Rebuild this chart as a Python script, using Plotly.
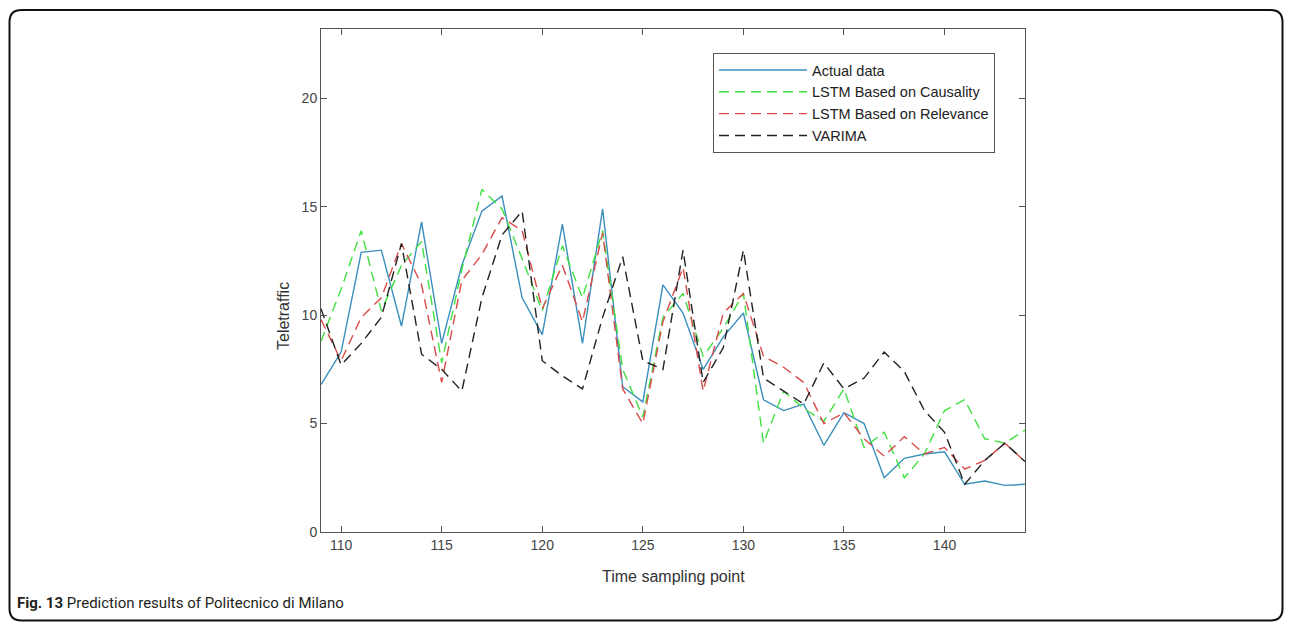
import plotly.graph_objects as go

# ---------------- data ----------------
time_points = list(range(109, 145))

actual_data = [6.8, 8.3, 12.9, 13.0, 9.5, 14.3, 8.7, 12.3, 14.8, 15.5, 10.8, 9.1,
               14.2, 8.7, 14.9, 6.7, 6.0, 11.4, 10.1, 7.5, 9.0, 10.1, 6.1,
               5.6, 5.9, 4.0, 5.5, 5.0, 2.5, 3.4, 3.6, 3.7, 2.2, 2.35, 2.15, 2.2]

lstm_causality = [8.8, 11.2, 13.9, 10.2, 12.3, 13.4, 7.8, 12.1, 15.8, 14.9, 12.6, 10.2,
                  13.2, 10.8, 13.9, 7.5, 5.3, 9.9, 11.0, 8.1, 9.4, 11.0, 4.1,
                  6.5, 5.7, 5.1, 6.6, 3.9, 4.6, 2.5, 3.6, 5.6, 6.1, 4.3, 4.1, 4.7]

lstm_relevance = [9.8, 7.9, 9.9, 10.8, 13.3, 11.4, 6.9, 11.6, 12.8, 14.5, 13.9, 10.3,
                  12.3, 9.7, 13.8, 6.6, 5.0, 9.7, 12.2, 6.5, 10.1, 11.0, 8.1,
                  7.6, 6.9, 5.0, 5.5, 4.3, 3.5, 4.4, 3.6, 3.9, 2.9, 3.3, 4.1, 3.25]

varima = [10.3, 7.7, 8.7, 9.9, 13.3, 8.2, 7.5, 6.5, 10.8, 13.7, 14.8, 7.9,
          7.2, 6.6, 9.9, 12.7, 7.9, 7.5, 13.0, 6.9, 8.5, 13.0, 7.1,
          6.5, 5.9, 7.8, 6.6, 7.1, 8.3, 7.4, 5.6, 4.6, 2.2, 3.3, 4.1, 3.25]

series_names = ["Actual data", "LSTM Based on Causality",
                "LSTM Based on Relevance", "VARIMA"]

x_ticks = [110, 115, 120, 125, 130, 135, 140]
y_ticks = [0, 5, 10, 15, 20]

# ---------------- figure ----------------
# the page body has an 8px default margin on every side; keep the figure
# inside the visible window
OFF = 8
W, H = 1292 - 2 * OFF, 630 - 2 * OFF


def px(p):   # page x pixel -> paper fraction
    return (p - OFF) / W


def py(p):   # page y pixel (from top) -> paper fraction (from bottom)
    return 1 - (p - OFF) / H


fig = go.Figure()

styles = [
    dict(color="#3b8fbd", width=1.4, dash="solid"),
    dict(color="#3fe03f", width=1.4, dash="10px,6px"),
    dict(color="#d94a4a", width=1.4, dash="10px,6px"),
    dict(color="#222222", width=1.4, dash="10px,6px"),
]
for name, ys, st in zip(series_names,
                        [actual_data, lstm_causality, lstm_relevance, varima],
                        styles):
    fig.add_trace(go.Scatter(x=time_points, y=ys, mode="lines", name=name,
                             line=st))

left, right, top, bottom = 321, 1025, 29, 532
axis_font = dict(family="Liberation Sans, Arial, sans-serif", size=14, color="#444444")

fig.update_layout(
    width=W, height=H,
    margin=dict(l=0, r=0, t=0, b=0),
    paper_bgcolor="white", plot_bgcolor="white",
    showlegend=True,
    legend=dict(
        x=px(995), xanchor="right", y=py(53), yanchor="top",
        bgcolor="white", bordercolor="#555555", borderwidth=1,
        font=dict(family="Liberation Sans, Arial, sans-serif", size=14.5, color="#222222"),
        itemwidth=88, tracegroupgap=0,
    ),
    xaxis=dict(
        domain=[px(left), px(right)],
        range=[109, 144], tickvals=x_ticks,
        ticks="inside", ticklen=6, tickcolor="#555555",
        showline=True, linecolor="#555555", linewidth=1, mirror="ticks",
        showgrid=False, zeroline=False, tickfont=axis_font, automargin=False,
    ),
    yaxis=dict(
        domain=[py(bottom), py(top)],
        range=[0, 23.2], tickvals=y_ticks,
        ticks="inside", ticklen=6, tickcolor="#555555",
        showline=True, linecolor="#555555", linewidth=1, mirror="ticks",
        showgrid=False, zeroline=False, tickfont=axis_font, automargin=False,
    ),
)

title_font = dict(family="Liberation Sans, Arial, sans-serif", size=16, color="#333333")
fig.add_annotation(text="Time sampling point", xref="paper", yref="paper",
                   x=px(673), y=py(576), showarrow=False,
                   xanchor="center", yanchor="middle", font=title_font)
fig.add_annotation(text="Teletraffic", xref="paper", yref="paper",
                   x=px(283), y=py(316), showarrow=False, textangle=-90,
                   xanchor="center", yanchor="middle", font=title_font)
fig.add_annotation(text="<b>Fig. 13</b> Prediction results of Politecnico di Milano",
                   xref="paper", yref="paper", x=px(15), y=py(603),
                   showarrow=False, xanchor="left", yanchor="middle",
                   font=dict(family="Roboto, sans-serif", size=15, color="#231f20"))

# rounded outer frame
xl, xr = px(OFF + 1.5), px(1282.5)
yt, yb = py(10), py(620.5)
rx, ry = 12 / W, 12 / H
path = (f"M {xl+rx},{yt} L {xr-rx},{yt} Q {xr},{yt} {xr},{yt-ry} "
        f"L {xr},{yb+ry} Q {xr},{yb} {xr-rx},{yb} L {xl+rx},{yb} "
        f"Q {xl},{yb} {xl},{yb+ry} L {xl},{yt-ry} Q {xl},{yt} {xl+rx},{yt} Z")
fig.add_shape(type="path", path=path, xref="paper", yref="paper",
              line=dict(color="#111111", width=2), fillcolor="rgba(0,0,0,0)")

fig.write_html("out.html")
